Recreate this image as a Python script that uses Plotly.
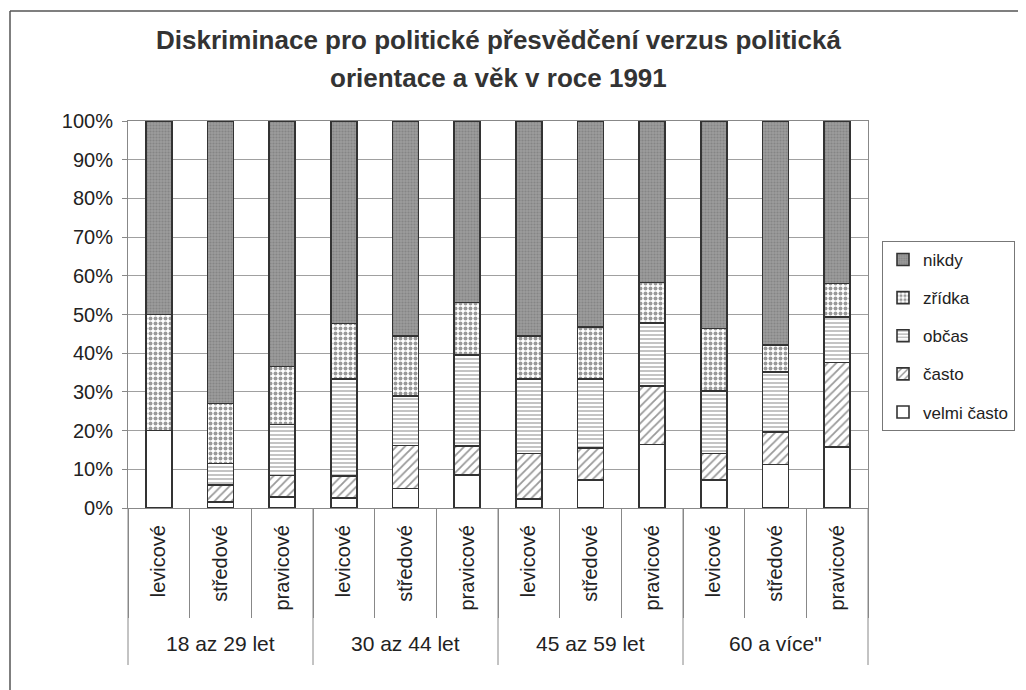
import plotly.graph_objects as go

age_groups = ["18 az 29 let", "30 az 44 let", "45 az 59 let", "60 a více\""]
orientations = ["levicové", "středové", "pravicové"]

velmi_casto = [20.0, 1.5, 2.8, 2.6, 5.0, 8.6, 2.4, 7.2, 16.4, 7.2, 11.2, 15.8]
casto = [0.0, 4.4, 5.6, 5.7, 11.2, 7.4, 11.7, 8.3, 15.1, 6.9, 8.5, 21.8]
obcas = [0.0, 5.6, 13.2, 25.1, 12.7, 23.5, 19.3, 17.9, 16.3, 16.1, 15.5, 11.8]
zridka = [30.0, 15.5, 15.0, 14.3, 15.5, 13.6, 11.0, 13.4, 10.5, 16.2, 6.9, 8.6]
nikdy = [50.0, 73.0, 63.4, 52.3, 55.6, 46.9, 55.6, 53.2, 41.7, 53.6, 57.9, 42.0]

# unique category keys (group | orientation); only orientation is shown as tick text
x_keys = [f"{a} | {o}" for a in age_groups for o in orientations]
x_inner = [o for _ in age_groups for o in orientations]

FONT = "Liberation Sans, Arial, sans-serif"
line = dict(color="#333333", width=1.6)

series = [
    ("velmi často", velmi_casto, dict(shape="", bgcolor="white")),
    ("často", casto, dict(shape="/", fgcolor="#333333", bgcolor="white", size=6, solidity=0.3)),
    ("občas", obcas, dict(shape="-", fgcolor="#555555", bgcolor="white", size=4, solidity=0.35)),
    ("zřídka", zridka, dict(shape=".", fgcolor="#333333", bgcolor="white", size=5, solidity=0.5)),
    ("nikdy", nikdy, dict(shape=".", fgcolor="#6e6e6e", bgcolor="#9c9c9c", size=3, solidity=0.4)),
]

fig = go.Figure()
n_series = len(series)
for i, (name, vals, pat) in enumerate(series):
    fig.add_trace(go.Bar(
        name=name, x=x_keys, y=vals,
        legendgroup=f"g{n_series - i}",
        legendrank=n_series - i,
        marker=dict(color=pat.get("bgcolor", "white"), line=line, pattern=pat),
    ))

W, H = 1018, 682
L, T = 120, 113
PW, PH = 740, 387
fig.update_layout(
    barmode="stack",
    bargap=0.58,
    width=W, height=H,
    margin=dict(l=L, r=W - L - PW, t=T, b=H - T - PH, autoexpand=False),
    paper_bgcolor="white", plot_bgcolor="white",
    font=dict(family=FONT, size=20, color="#222222"),
    legend=dict(
        xref="container", yref="container",
        x=874 / W, xanchor="left", y=1 - 233 / H, yanchor="top",
        traceorder="grouped",
        bordercolor="#777777", borderwidth=1,
        font=dict(family=FONT, size=17),
        tracegroupgap=13,
    ),
    showlegend=True,
)
fig.add_annotation(text="<b>Diskriminace pro politické přesvědčení verzus politická</b>",
                   xref="paper", yref="paper", x=0.5, y=1 + (T - 32) / PH,
                   xanchor="center", yanchor="middle", showarrow=False,
                   font=dict(family=FONT, size=26, color="#333333"))
fig.add_annotation(text="<b>orientace a věk v roce 1991</b>",
                   xref="paper", yref="paper", x=0.5, y=1 + (T - 70) / PH,
                   xanchor="center", yanchor="middle", showarrow=False,
                   font=dict(family=FONT, size=26, color="#333333"))

n_groups = len(age_groups)
for k, label in enumerate(age_groups):
    fig.add_annotation(text=label, xref="paper", yref="paper",
                       x=(k + 0.5) / n_groups, y=-(635 - T - PH) / PH,
                       xanchor="center", yanchor="middle", showarrow=False,
                       font=dict(family=FONT, size=21, color="#222222"))
for k in range(n_groups + 1):
    fig.add_shape(type="line", xref="paper", yref="paper",
                  x0=k / n_groups, x1=k / n_groups, y0=0, y1=-(657 - T - PH) / PH,
                  line=dict(color="#888888", width=1))

fig.update_yaxes(
    range=[0, 100], dtick=10, ticksuffix="%",
    showgrid=True, gridcolor="#a0a0a0", gridwidth=1,
    showline=True, linecolor="#888888", linewidth=1,
    ticks="outside", ticklen=5, tickcolor="#888888",
    mirror=True, tickfont=dict(size=20), ticklabelstandoff=5,
)
fig.update_xaxes(
    type="category",
    tickmode="array", tickvals=x_keys, ticktext=x_inner,
    tickangle=-90,
    showline=True, linecolor="#888888", linewidth=1, mirror=True,
    ticks="outside", tickson="boundaries", ticklen=109, tickcolor="#888888",
    tickfont=dict(size=20), ticklabelstandoff=8,
)
fx = (2 - L) / PW
fy = 1 + (T - 3) / PH
fig.add_shape(type="line", xref="paper", yref="paper", x0=fx, x1=1.4, y0=fy, y1=fy,
              line=dict(color="#555555", width=1.5))
fig.add_shape(type="line", xref="paper", yref="paper", x0=fx, x1=fx, y0=fy, y1=-0.6,
              line=dict(color="#555555", width=1.5))

fig.write_html("out.html")
